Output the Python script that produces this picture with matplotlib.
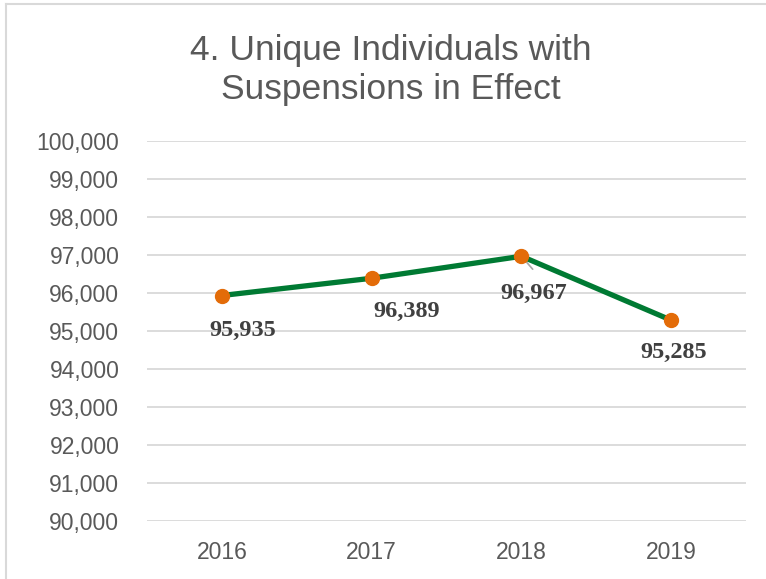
import matplotlib.pyplot as plt
from matplotlib.ticker import FuncFormatter
from matplotlib.lines import Line2D

years = ["2016", "2017", "2018", "2019"]
individuals = [95935, 96389, 96967, 95285]
# label offsets from each point, in points (x, y)
label_offsets = [(15, -25), (25, -24), (9, -27), (2, -23)]

title = "4. Unique Individuals with\nSuspensions in Effect"

grey_text = "#595959"
label_color = "#404040"
grid_color = "#d9d9d9"
line_color = "#007A33"
marker_color = "#E36C09"

fig = plt.figure(figsize=(7.66, 5.79), dpi=100)
ax = fig.add_axes([0.192, 0.100, 0.782, 0.6565])

x = range(len(years))
ax.plot(x, individuals, color=line_color, linewidth=3.8, zorder=3,
        marker="o", markersize=10, markerfacecolor=marker_color,
        markeredgecolor=marker_color, solid_capstyle="round")

for i, v in enumerate(individuals):
    dx, dy = label_offsets[i]
    ax.annotate(f"{v:,}", (i, v), xytext=(dx, dy), textcoords="offset points",
                ha="center", va="center", fontsize=17.5, fontweight="bold",
                family=["Liberation Serif", "DejaVu Serif"], color=label_color,
                zorder=4)

# leader line for the 2018 label
ax.annotate("", (2, individuals[2]), xytext=(2.075, individuals[2] - 340),
            arrowprops=dict(arrowstyle="-", color="#a6a6a6", lw=1.2,
                            shrinkA=0, shrinkB=2), zorder=2)

ax.set_xlim(-0.5, len(years) - 0.5)
ax.set_ylim(90000, 100000)
ax.set_yticks(range(90000, 100001, 1000))
ax.yaxis.set_major_formatter(FuncFormatter(lambda v, p: f"{int(v):,}"))
ax.set_xticks(list(x))
ax.set_xticklabels(years)

ax.grid(axis="y", color=grid_color, linewidth=1.3)
ax.set_axisbelow(True)
for s in ax.spines.values():
    s.set_visible(False)
ax.tick_params(length=0, labelsize=16.5, labelcolor=grey_text)
ax.tick_params(axis="y", pad=20)
ax.tick_params(axis="x", pad=14)
for lab in ax.get_xticklabels() + ax.get_yticklabels():
    lab.set_family(["Liberation Sans", "DejaVu Sans"])

fig.text(391 / 766, 1 - 70 / 579, title, ha="center", va="center",
         fontsize=25.5, color=grey_text, linespacing=1.2,
         family=["Liberation Sans", "DejaVu Sans"])

# chart border (top and left visible)
fig.add_artist(Line2D([6 / 766, 6 / 766], [0, 1 - 4 / 579], color=grid_color,
                      linewidth=1.5, transform=fig.transFigure))
fig.add_artist(Line2D([6 / 766, 1], [1 - 4 / 579, 1 - 4 / 579], color=grid_color,
                      linewidth=1.5, transform=fig.transFigure))

fig.savefig("out.png", dpi=100)
